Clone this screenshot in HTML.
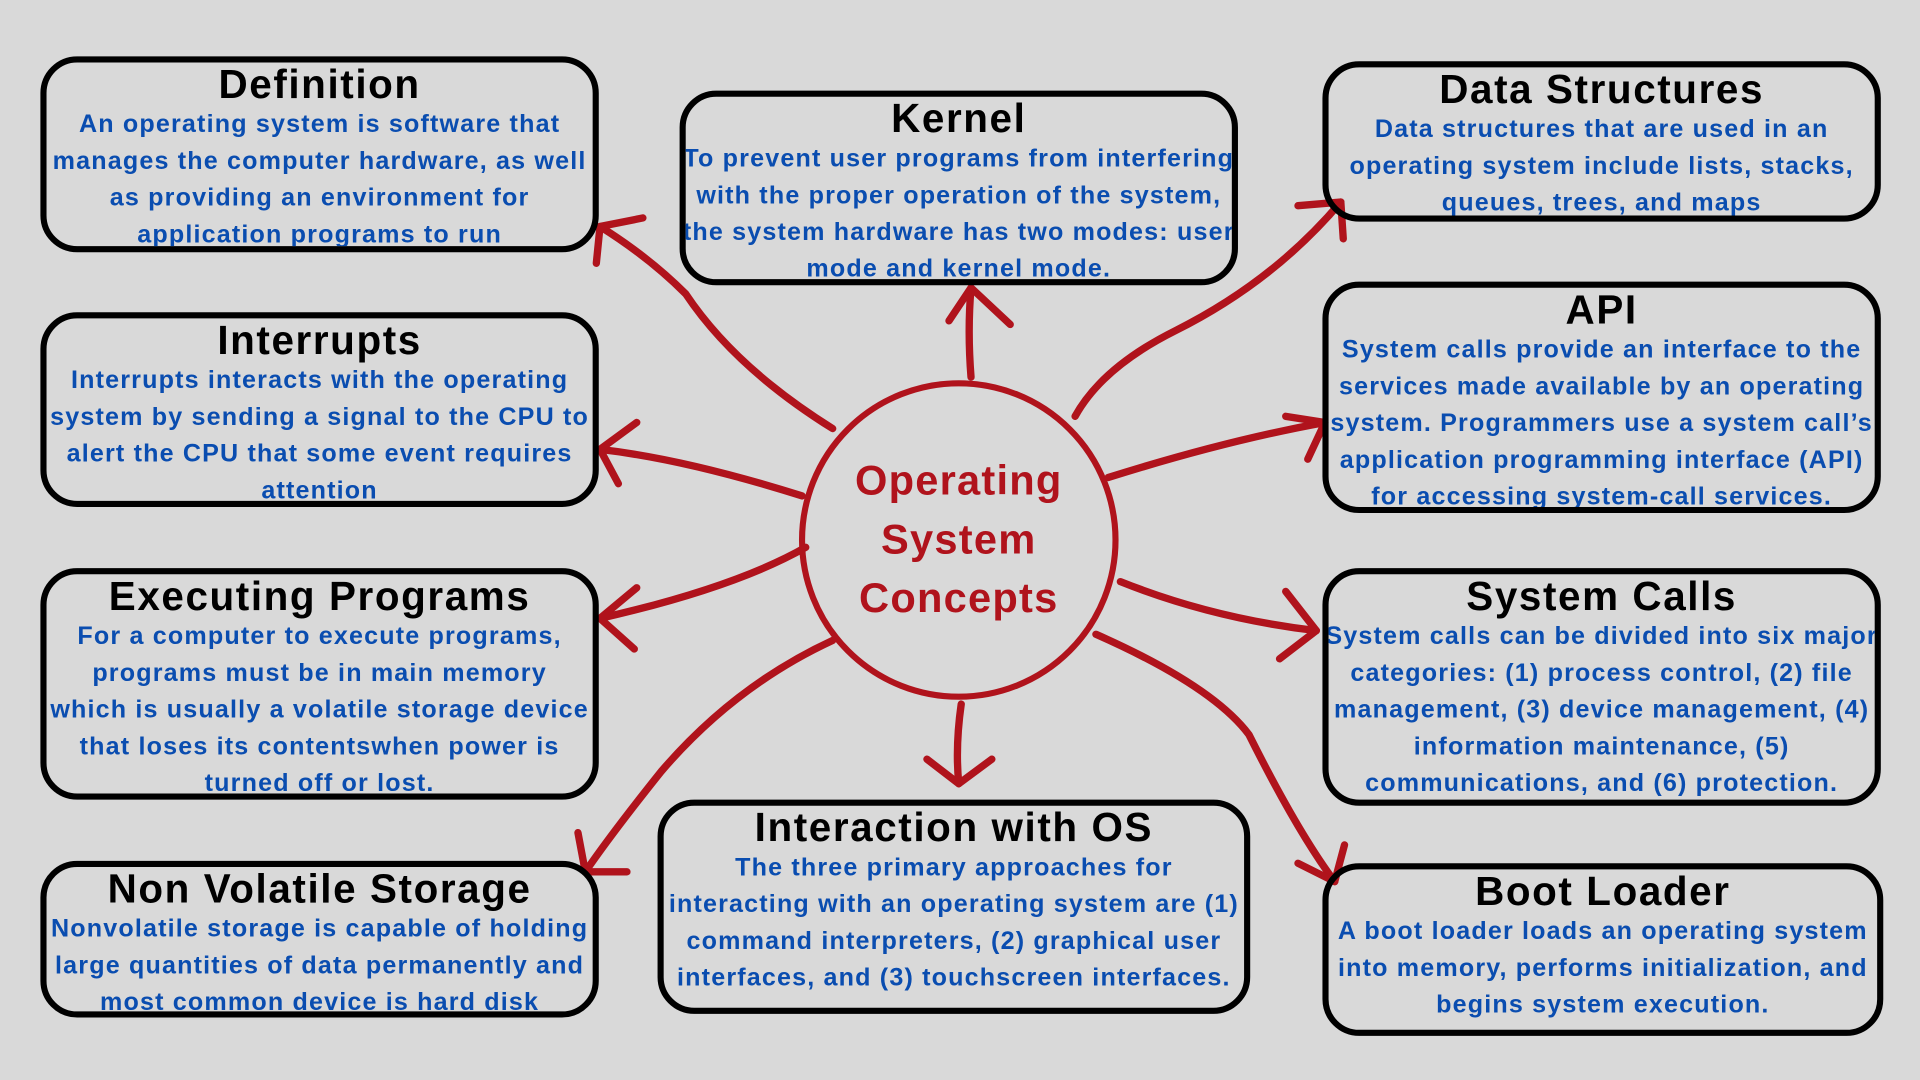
<!DOCTYPE html>
<html><head><meta charset="utf-8">
<style>
html,body{margin:0;padding:0;background:#d9d9d9;width:1920px;height:1080px;overflow:hidden}
#s{position:absolute;left:0;top:0;width:1568px;height:882px;transform:scale(1.22449);transform-origin:0 0;font-family:"Liberation Sans",sans-serif}
.b{position:absolute;border:5.5px solid #000;border-radius:30px;box-sizing:border-box;overflow:hidden;text-align:center}
.t{font-size:33px;font-weight:bold;color:#000;line-height:36px;margin-top:0;white-space:nowrap;letter-spacing:1.3px;margin-left:-20px;margin-right:-20px}
.d{font-size:20.5px;font-weight:bold;color:#0a4db0;line-height:30px;white-space:nowrap;letter-spacing:0.95px;margin-top:0;margin-left:-20px;margin-right:-20px}
svg{position:absolute;left:0;top:0}
</style></head><body><div id="s">
<svg width="1568" height="882" viewBox="0 0 1568 882">
<g fill="none" stroke="#b0131c" stroke-width="6" stroke-linecap="round" stroke-linejoin="round">
<circle cx="783" cy="441" r="128" stroke-width="5"/>
<path d="M680 350 Q600 300 560 240 Q530 210 490 185"/><path d="M487 215 L490 185 L525 178"/>
<path d="M793 308 Q790 270 793 235"/><path d="M775 262 L793 235 L825 265"/>
<path d="M878 340 Q900 300 960 270 Q1040 230 1095 165"/><path d="M1060 168 L1095 165 L1097 195"/>
<path d="M905 390 Q1000 360 1082 345"/><path d="M1050 340 L1082 345 L1068 375"/>
<path d="M655 405 Q560 375 490 367"/><path d="M520 345 L490 367 L505 395"/>
<path d="M658 447 Q600 480 490 505"/><path d="M520 480 L490 505 L518 530"/>
<path d="M680 523 Q600 560 540 630 Q500 680 478 712"/><path d="M472 680 L478 712 L512 712"/>
<path d="M785 575 Q780 610 783 640"/><path d="M757 620 L783 640 L810 620"/>
<path d="M915 475 Q990 505 1075 515"/><path d="M1050 483 L1075 515 L1045 538"/>
<path d="M895 518 Q990 560 1020 600 Q1060 680 1090 720"/><path d="M1060 705 L1090 720 L1098 690"/>
</g>
<text x="783" y="404" text-anchor="middle" font-family="Liberation Sans,sans-serif" font-weight="bold" font-size="34" letter-spacing="1" fill="#b0131c">Operating</text>
<text x="783" y="452" text-anchor="middle" font-family="Liberation Sans,sans-serif" font-weight="bold" font-size="34" letter-spacing="1" fill="#b0131c">System</text>
<text x="783" y="500" text-anchor="middle" font-family="Liberation Sans,sans-serif" font-weight="bold" font-size="34" letter-spacing="1" fill="#b0131c">Concepts</text>
</svg>
<div class="b" style="left:33px;top:46px;width:456px;height:160px"><div class="t">Definition</div><div class="d">An operating system is software that<br>manages the computer hardware, as well<br>as providing an environment for<br>application programs to run</div></div>
<div class="b" style="left:555px;top:74px;width:456px;height:159px"><div class="t">Kernel</div><div class="d">To prevent user programs from interfering<br>with the proper operation of the system,<br>the system hardware has two modes: user<br>mode and kernel mode.</div></div>
<div class="b" style="left:1080px;top:50px;width:456px;height:131px"><div class="t">Data Structures</div><div class="d">Data structures that are used in an<br>operating system include lists, stacks,<br>queues, trees, and maps</div></div>
<div class="b" style="left:33px;top:255px;width:456px;height:159px"><div class="t">Interrupts</div><div class="d">Interrupts interacts with the operating<br>system by sending a signal to the CPU to<br>alert the CPU that some event requires<br>attention</div></div>
<div class="b" style="left:1080px;top:230px;width:456px;height:189px"><div class="t">API</div><div class="d">System calls provide an interface to the<br>services made available by an operating<br>system. Programmers use a system call’s<br>application programming interface (API)<br>for accessing system-call services.</div></div>
<div class="b" style="left:33px;top:464px;width:456px;height:189px"><div class="t">Executing Programs</div><div class="d">For a computer to execute programs,<br>programs must be in main memory<br>which is usually a volatile storage device<br>that loses its contentswhen power is<br>turned off or lost.</div></div>
<div class="b" style="left:1080px;top:464px;width:456px;height:194px"><div class="t">System Calls</div><div class="d">System calls can be divided into six major<br>categories: (1) process control, (2) file<br>management, (3) device management, (4)<br>information maintenance, (5)<br>communications, and (6) protection.</div></div>
<div class="b" style="left:33px;top:703px;width:456px;height:128px"><div class="t">Non Volatile Storage</div><div class="d">Nonvolatile storage is capable of holding<br>large quantities of data permanently and<br>most common device is hard disk</div></div>
<div class="b" style="left:537px;top:653px;width:484px;height:175px"><div class="t">Interaction with OS</div><div class="d">The three primary approaches for<br>interacting with an operating system are (1)<br>command interpreters, (2) graphical user<br>interfaces, and (3) touchscreen interfaces.</div></div>
<div class="b" style="left:1080px;top:705px;width:458px;height:141px"><div class="t">Boot Loader</div><div class="d">A boot loader loads an operating system<br>into memory, performs initialization, and<br>begins system execution.</div></div>
</div></body></html>
